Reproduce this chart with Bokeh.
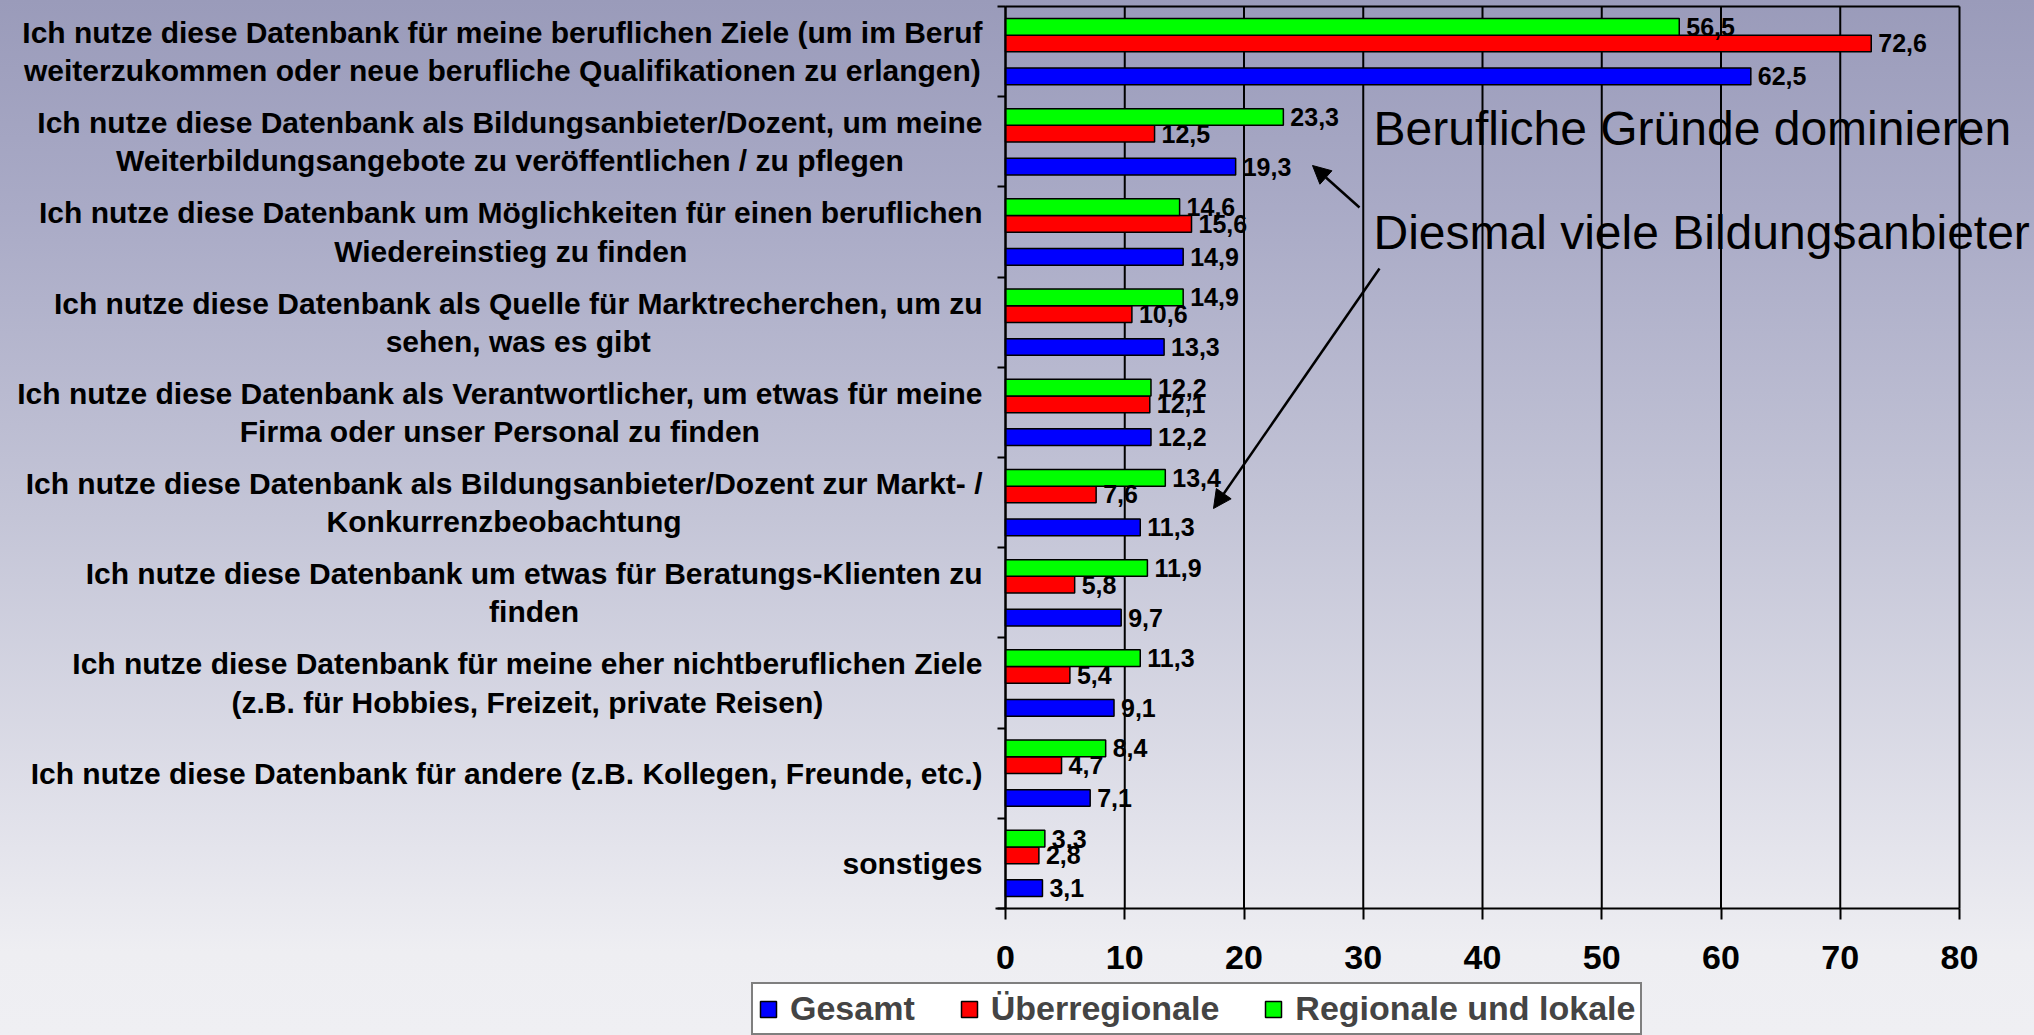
from bokeh.plotting import figure
from bokeh.models import (Range1d, FixedTicker, ColumnDataSource,
                          Legend, LegendItem, Label, Arrow, NormalHead, InlineStyleSheet)
from bokeh.transform import dodge
from bokeh.core.properties import value
from bokeh.embed import file_html
from bokeh.resources import INLINE

categories = [
    "Ich nutze diese Datenbank für meine beruflichen Ziele (um im Beruf\nweiterzukommen oder neue berufliche Qualifikationen zu erlangen)",
    "Ich nutze diese Datenbank als Bildungsanbieter/Dozent, um meine\nWeiterbildungsangebote zu veröffentlichen / zu pflegen",
    "Ich nutze diese Datenbank um Möglichkeiten für einen beruflichen\nWiedereinstieg zu finden",
    "Ich nutze diese Datenbank als Quelle für Marktrecherchen, um zu\nsehen, was es gibt",
    "Ich nutze diese Datenbank als Verantwortlicher, um etwas für meine\nFirma oder unser Personal zu finden",
    "Ich nutze diese Datenbank als Bildungsanbieter/Dozent zur Markt- /\nKonkurrenzbeobachtung",
    "Ich nutze diese Datenbank um etwas für Beratungs-Klienten zu\nfinden",
    "Ich nutze diese Datenbank für meine eher nichtberuflichen Ziele\n(z.B. für Hobbies, Freizeit, private Reisen)",
    "Ich nutze diese Datenbank für andere (z.B. Kollegen, Freunde, etc.)",
    "sonstiges",
]
gesamt = [62.5, 19.3, 14.9, 13.3, 12.2, 11.3, 9.7, 9.1, 7.1, 3.1]
ueberregionale = [72.6, 12.5, 15.6, 10.6, 12.1, 7.6, 5.8, 5.4, 4.7, 2.8]
regionale = [56.5, 23.3, 14.6, 14.9, 12.2, 13.4, 11.9, 11.3, 8.4, 3.3]
series_names = ["Gesamt", "Überregionale", "Regionale und lokale"]
x_ticks = [0, 10, 20, 30, 40, 50, 60, 70, 80]
note_1 = "Berufliche Gründe dominieren"
note_2 = "Diesmal viele Bildungsanbieter"

FONT_NAME = "Liberation Sans"
FONT = value(FONT_NAME)
n = len(categories)
ypos = [n - i - 0.5 for i in range(n)]   # first category at the top


def fmt(v):
    return f"{v:.1f}".replace(".", ",")


# ---- layout (canvas pixels) ----
W, HGT = 2034, 1035
PX_L, PX_R, PX_T, PX_B = 1005, 1959, 6, 908
x_max = x_ticks[-1]
sx = (PX_R - PX_L) / x_max
sy = (PX_B - PX_T) / n


def cx(px):
    return (px - PX_L) / sx


def cy(py):
    return (PX_B - py) / sy


src = ColumnDataSource(dict(
    ypos=ypos, cats=categories,
    gesamt=gesamt, ueber=ueberregionale, regional=regionale,
    g_lbl=[fmt(v) for v in gesamt],
    u_lbl=[fmt(v) for v in ueberregionale],
    r_lbl=[fmt(v) for v in regionale],
))

p = figure(width=W, height=HGT,
           x_range=Range1d(cx(0), cx(W)), y_range=Range1d(cy(HGT), cy(0)),
           output_backend="svg", toolbar_location=None,
           min_border_left=0, min_border_right=0, min_border_top=0, min_border_bottom=0)
p.title.visible = False
p.background_fill_alpha = 0
p.border_fill_alpha = 0
p.stylesheets = [InlineStyleSheet(css=":host { background: linear-gradient(to bottom, #9a9bba 0%, #a9aac6 20%, #c4c5d7 50%, #e4e4ec 82%, #eeeef2 92%, #efeff3 100%); }")]
p.outline_line_color = None
p.xgrid.visible = False
p.ygrid.visible = False

# vertical grid lines and top border of the plot area
p.segment(x0=x_ticks, y0=[0] * len(x_ticks), x1=x_ticks, y1=[n] * len(x_ticks),
          line_color="black", line_width=2)
p.segment(x0=[0], y0=[n], x1=[x_max], y1=[n], line_color="black", line_width=2)

# x axis
xax = p.xaxis[0]
xax.fixed_location = 0
xax.bounds = (cx(PX_L - 10), x_max)
xax.ticker = FixedTicker(ticks=x_ticks)
xax.axis_line_width = 2
xax.major_tick_line_width = 2
xax.major_tick_out = 11
xax.major_tick_in = 0
xax.minor_tick_line_color = None
xax.major_label_text_font = FONT_NAME
xax.major_label_text_font_style = "bold"
xax.major_label_text_font_size = "34px"
xax.major_label_text_color = "black"
xax.major_label_standoff = 26

# y axis: ticks at category boundaries
yax = p.yaxis[0]
yax.fixed_location = 0
yax.bounds = (0, n)
yax.ticker = FixedTicker(ticks=list(range(n + 1)))
yax.major_label_overrides = {i: "" for i in range(n + 1)}
yax.axis_line_width = 2
yax.major_tick_line_width = 2
yax.major_tick_out = 8
yax.major_tick_in = 0
yax.minor_tick_line_color = None

# category labels (block right-aligned, lines centred)
p.text(x=cx(982), y="ypos", text="cats", source=src, anchor="center_right",
       text_align="center", text_baseline="middle", text_line_height=1.16,
       text_font=FONT, text_font_style="bold", text_font_size="30px", text_color="black")

BH = 0.185
r_blue = p.hbar(y=dodge("ypos", -0.275), left=0, right="gesamt", height=BH,
                fill_color="#0000ff", line_color="black", line_width=1.5, source=src)
r_red = p.hbar(y=dodge("ypos", 0.09), left=0, right="ueber", height=BH,
               fill_color="#ff0000", line_color="black", line_width=1.5, source=src)
r_green = p.hbar(y=dodge("ypos", 0.275), left=0, right="regional", height=BH,
                 fill_color="#00ff00", line_color="black", line_width=1.5, source=src)

for col, off, lbl in [("gesamt", -0.275, "g_lbl"), ("ueber", 0.09, "u_lbl"), ("regional", 0.275, "r_lbl")]:
    p.text(x=col, y=dodge("ypos", off), text=lbl, x_offset=7,
           text_baseline="middle", text_align="left", text_font=FONT,
           text_font_style="bold", text_font_size="25px", text_color="black", source=src)

legend = Legend(items=[LegendItem(label=series_names[0], renderers=[r_blue]),
                       LegendItem(label=series_names[1], renderers=[r_red]),
                       LegendItem(label=series_names[2], renderers=[r_green])],
                orientation="horizontal", location=(751, 0))
legend.glyph_width = 20
legend.glyph_height = 20
legend.label_text_font = FONT_NAME
legend.label_text_font_style = "bold"
legend.label_text_font_size = "34px"
legend.label_standoff = 12
legend.spacing = 44
legend.padding = 5
legend.margin = 0
legend.border_line_color = "black"
legend.border_line_width = 2
legend.background_fill_color = "white"
legend.background_fill_alpha = 1
p.add_layout(legend)

p.add_layout(Label(x=cx(1373), y=cy(128), text=note_1, text_font=FONT_NAME, text_font_size="48px",
                   text_baseline="alphabetic", text_color="black"))
p.add_layout(Label(x=cx(1373), y=cy(232), text=note_2, text_font=FONT_NAME, text_font_size="48px",
                   text_baseline="alphabetic", text_color="black"))

p.add_layout(Arrow(end=NormalHead(size=18, fill_color="black", line_color="black"),
                   x_start=cx(1359), y_start=cy(207), x_end=cx(1312), y_end=cy(165), line_width=2.5))
p.add_layout(Arrow(end=NormalHead(size=18, fill_color="black", line_color="black"),
                   x_start=cx(1379), y_start=cy(268), x_end=cx(1213), y_end=cy(508), line_width=2.5))

open("out.html", "w").write(file_html(p, INLINE))
